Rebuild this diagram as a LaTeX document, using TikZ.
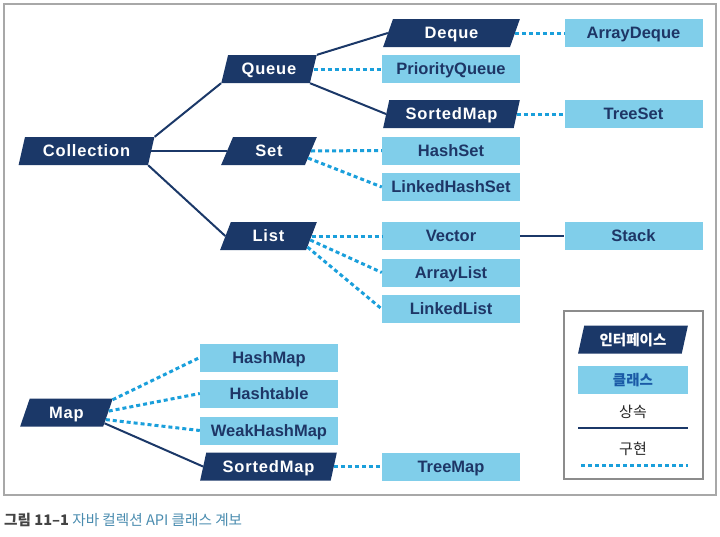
\documentclass[tikz,border=0pt]{standalone}
\usepackage{fontspec}
\setmainfont{Liberation Sans}
\newfontfamily\ifont[LetterSpace=5]{Liberation Sans}
\newfontfamily\krfont{Noto Sans CJK KR}
\usetikzlibrary{shapes.geometric,calc}
\definecolor{navy}{HTML}{1B3868}
\definecolor{lblue}{HTML}{80CEEA}
\definecolor{clstext}{HTML}{1E3666}
\definecolor{dotc}{HTML}{1A9FDB}
\definecolor{framec}{HTML}{A8A8A8}
\definecolor{legc}{HTML}{8C8C8C}
\definecolor{capgray}{HTML}{444444}
\definecolor{capblue}{HTML}{4A8CAF}
\definecolor{klsblue}{HTML}{1A5AA6}
\tikzset{
  iface/.style={trapezium, trapezium left angle=69, trapezium right angle=111,
    trapezium stretches=true, fill=navy, text=white, inner sep=0pt,
    minimum height=28pt, text height=11.8pt, text depth=0pt,
    font=\ifont\bfseries\fontsize{16.5}{16}\selectfont},
  cls/.style={rectangle, fill=lblue, text=clstext, inner sep=0pt,
    minimum width=138pt, minimum height=28pt, text height=11.8pt, text depth=0pt,
    font=\bfseries\fontsize{16.5}{16}\selectfont},
  inh/.style={draw=navy, line width=2pt},
  impl/.style={draw=dotc, line width=3pt, dash pattern=on 4pt off 3pt},
  kr/.style={font=\krfont\fontsize{15}{15}\selectfont},
  krb/.style={font=\krfont\bfseries\fontsize{14.5}{15}\selectfont, text height=11pt, text depth=0pt}
}
\begin{document}
\begin{tikzpicture}[x=1pt,y=-1pt]
\useasboundingbox (0,0) rectangle (720,536);
\draw[framec, line width=1.2pt] (4,4) rectangle (716,495);
% interfaces
\node[iface, minimum width=137pt] (coll) at (86.5,151) {Collection};
\node[iface, minimum width=96pt] (queue) at (269,69) {Queue};
\node[iface, minimum width=96pt] (set) at (269,151) {Set};
\node[iface, minimum width=97pt] (list) at (268.5,236) {List};
\node[iface, minimum width=137pt] (deque) at (451.5,33) {Deque};
\node[iface, minimum width=137pt] (sm1) at (451.5,114) {SortedMap};
\node[iface, minimum width=93pt] (map) at (66.5,412.5) {Map};
\node[iface, minimum width=137pt] (sm2) at (268.5,466.5) {SortedMap};
% classes
\node[cls] (pq) at (451,69) {PriorityQueue};
\node[cls] (hs) at (451,150.5) {HashSet};
\node[cls] (lhs) at (451,187) {LinkedHashSet};
\node[cls] (vec) at (451,236) {Vector};
\node[cls] (al) at (451,272.5) {ArrayList};
\node[cls] (ll) at (451,309) {LinkedList};
\node[cls] (ad) at (633.5,33) {ArrayDeque};
\node[cls] (ts) at (633.5,114) {TreeSet};
\node[cls] (stack) at (633.5,236) {Stack};
\node[cls] (hm) at (269,357.5) {HashMap};
\node[cls] (ht) at (269,393.5) {Hashtable};
\node[cls] (whm) at (269,430.5) {WeakHashMap};
\node[cls] (tm) at (451,466.5) {TreeMap};
% connectors
\draw[inh] (coll.top right corner) -- (queue.bottom left corner);
\draw[inh] (coll.right side) -- (set.left side);
\draw[inh] (coll.bottom right corner) -- (list.left side);
\draw[inh] (queue.top right corner) -- (deque.left side);
\draw[inh] (queue.bottom right corner) -- (sm1.left side);
\draw[impl] (queue.right side) -- (pq.west);
\draw[impl] (set.right side) -- (hs.west);
\draw[impl] ($(set.right side)!0.5!(set.bottom right corner)$) -- (lhs.west);
\draw[impl] (list.right side) -- (vec.west);
\draw[impl] ($(list.top right corner)!0.64!(list.bottom right corner)$) -- (al.west);
\draw[impl] ($(list.top right corner)!0.89!(list.bottom right corner)$) -- (ll.west);
\draw[impl] (deque.right side) -- (ad.west);
\draw[impl] (sm1.right side) -- (ts.west);
\draw[navy, line width=1.6pt] (vec.east) -- (stack.west);
\draw[impl] ($(map.top right corner)!0.05!(map.bottom right corner)$) -- (hm.west);
\draw[impl] ($(map.top right corner)!0.45!(map.bottom right corner)$) -- (ht.west);
\draw[impl] ($(map.top right corner)!0.75!(map.bottom right corner)$) -- (whm.west);
\draw[inh] ($(map.top right corner)!0.88!(map.bottom right corner)$) -- (sm2.left side);
\draw[impl] (sm2.right side) -- (tm.west);
% legend
\node[draw=legc, line width=1.5pt, minimum width=139pt, minimum height=168pt, inner sep=0pt] (legend) at (633.5,395) {};
\node[iface, minimum width=110pt, krb] (legi) at (633,339.5) {인터페이스};
\node[cls, minimum width=110pt, text=klsblue, krb] (legc) at (633,379.5) {클래스};
\node[kr, text=black!85] (leginh) at (633,412) {상속};
\coordinate (inhA) at (578,428);
\coordinate (inhB) at (688,428);
\draw[inh] (inhA) -- (inhB);
\node[kr, text=black!85] (legimpl) at (633,449) {구현};
\coordinate (implA) at (581,465);
\coordinate (implB) at (688,465);
\draw[impl] (implA) -- (implB);
% caption
\node[anchor=west, inner sep=0pt, font=\krfont\fontsize{14.6}{15}\selectfont] (cap) at (4,520)
  {\textcolor{capgray}{\bfseries 그림 11–1} \textcolor{capblue}{자바 컬렉션 API 클래스 계보}};
\end{tikzpicture}
\end{document}
